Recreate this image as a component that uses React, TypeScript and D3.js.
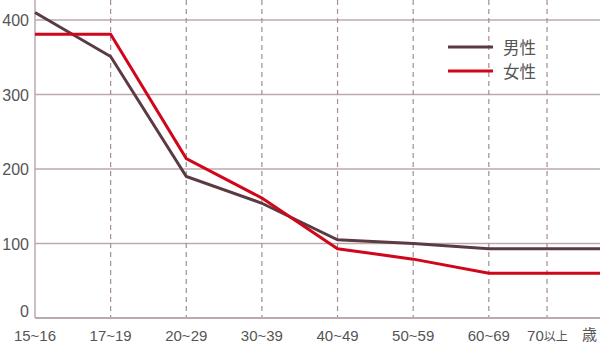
import React from "react";
import * as d3 from "d3";

const categories = ["15~16", "17~19", "20~29", "30~39", "40~49", "50~59", "60~69", "70以上"];
const categoryPos = [0, 1, 2, 3, 4, 5, 6, 6.77];
const maleValues = [410, 351, 190, 154, 105, 100, 93, 93];
const femaleValues = [381, 381, 214, 161, 93, 79, 60, 60];
const yTicks = [0, 100, 200, 300, 400];
const seriesNames = ["男性", "女性"];
const unitLabel = "歳";

const W = 600;
const H = 345;
const left = 35;
const right = 600;
const xEnd = 7.47;

const gridColor = "#bba9ad";
const dashColor = "#a38d93";
const textColor = "#555555";
const maleColor = "#5a3b41";
const femaleColor = "#d0061b";
const font = "'Liberation Sans', Arial, sans-serif";

export default function App() {
  const x = d3.scaleLinear().domain([0, xEnd]).range([left, right]);
  const y = d3.scaleLinear().domain([0, 400]).range([318, 20]);

  const makePts = (vals: number[]) => {
    const pts: [number, number][] = vals.map((v, i) => [categoryPos[i], v]);
    pts.push([xEnd, vals[vals.length - 1]]);
    return pts;
  };
  const line = d3
    .line<[number, number]>()
    .x((d) => x(d[0]))
    .y((d) => y(d[1]));

  return (
    <svg width={W} height={H} style={{ position: "absolute", left: 0, top: 0, display: "block" }}>
      <rect x={0} y={0} width={W} height={H} fill="#fff" />
      {yTicks.filter((t) => t > 0).map((t) => (
        <line key={t} x1={left} x2={right} y1={y(t)} y2={y(t)} stroke={gridColor} strokeWidth={1.5} />
      ))}
      {categoryPos.slice(1).map((p, i) => (
        <line
          key={i}
          x1={x(p)}
          x2={x(p)}
          y1={0}
          y2={y(0)}
          stroke={dashColor}
          strokeWidth={1.2}
          strokeDasharray="5,4"
        />
      ))}
      <line x1={left} x2={left} y1={0} y2={y(0)} stroke={gridColor} strokeWidth={1.5} />
      <line x1={left} x2={right} y1={y(0)} y2={y(0)} stroke={gridColor} strokeWidth={2} />
      {yTicks.map((t) => (
        <text
          key={t}
          x={29}
          y={t === 0 ? y(t) - 1 : y(t) + 6}
          textAnchor="end"
          fontFamily={font}
          fontSize={16}
          fill={textColor}
        >
          {t}
        </text>
      ))}
      {categories.map((c, i) => {
        if (c === "70以上") {
          return (
            <text key={c} x={x(categoryPos[i]) - 20} y={341} fontFamily={font} fontSize={15} fill={textColor}>
              70<tspan fontSize={12} fontFamily="'Noto Sans CJK JP', sans-serif">以上</tspan>
            </text>
          );
        }
        return (
          <text
            key={c}
            x={x(categoryPos[i])}
            y={341}
            textAnchor="middle"
            fontFamily={font}
            fontSize={15}
            fill={textColor}
          >
            {c}
          </text>
        );
      })}
      <text x={582} y={340} fontFamily="'Noto Sans CJK JP', sans-serif" fontSize={15} fill={textColor}>
        {unitLabel}
      </text>
      <path d={line(makePts(maleValues)) || ""} fill="none" stroke={maleColor} strokeWidth={3} strokeLinejoin="miter" />
      <path d={line(makePts(femaleValues)) || ""} fill="none" stroke={femaleColor} strokeWidth={3} strokeLinejoin="miter" />
      {seriesNames.map((n, i) => (
        <g key={n}>
          <line
            x1={448}
            x2={493}
            y1={47 + i * 24}
            y2={47 + i * 24}
            stroke={i === 0 ? maleColor : femaleColor}
            strokeWidth={3}
          />
          <text
            x={503}
            y={54 + i * 24}
            fontFamily="'Noto Sans CJK JP', sans-serif"
            fontSize={16.5}
            fill={textColor}
          >
            {n}
          </text>
        </g>
      ))}
    </svg>
  );
}
